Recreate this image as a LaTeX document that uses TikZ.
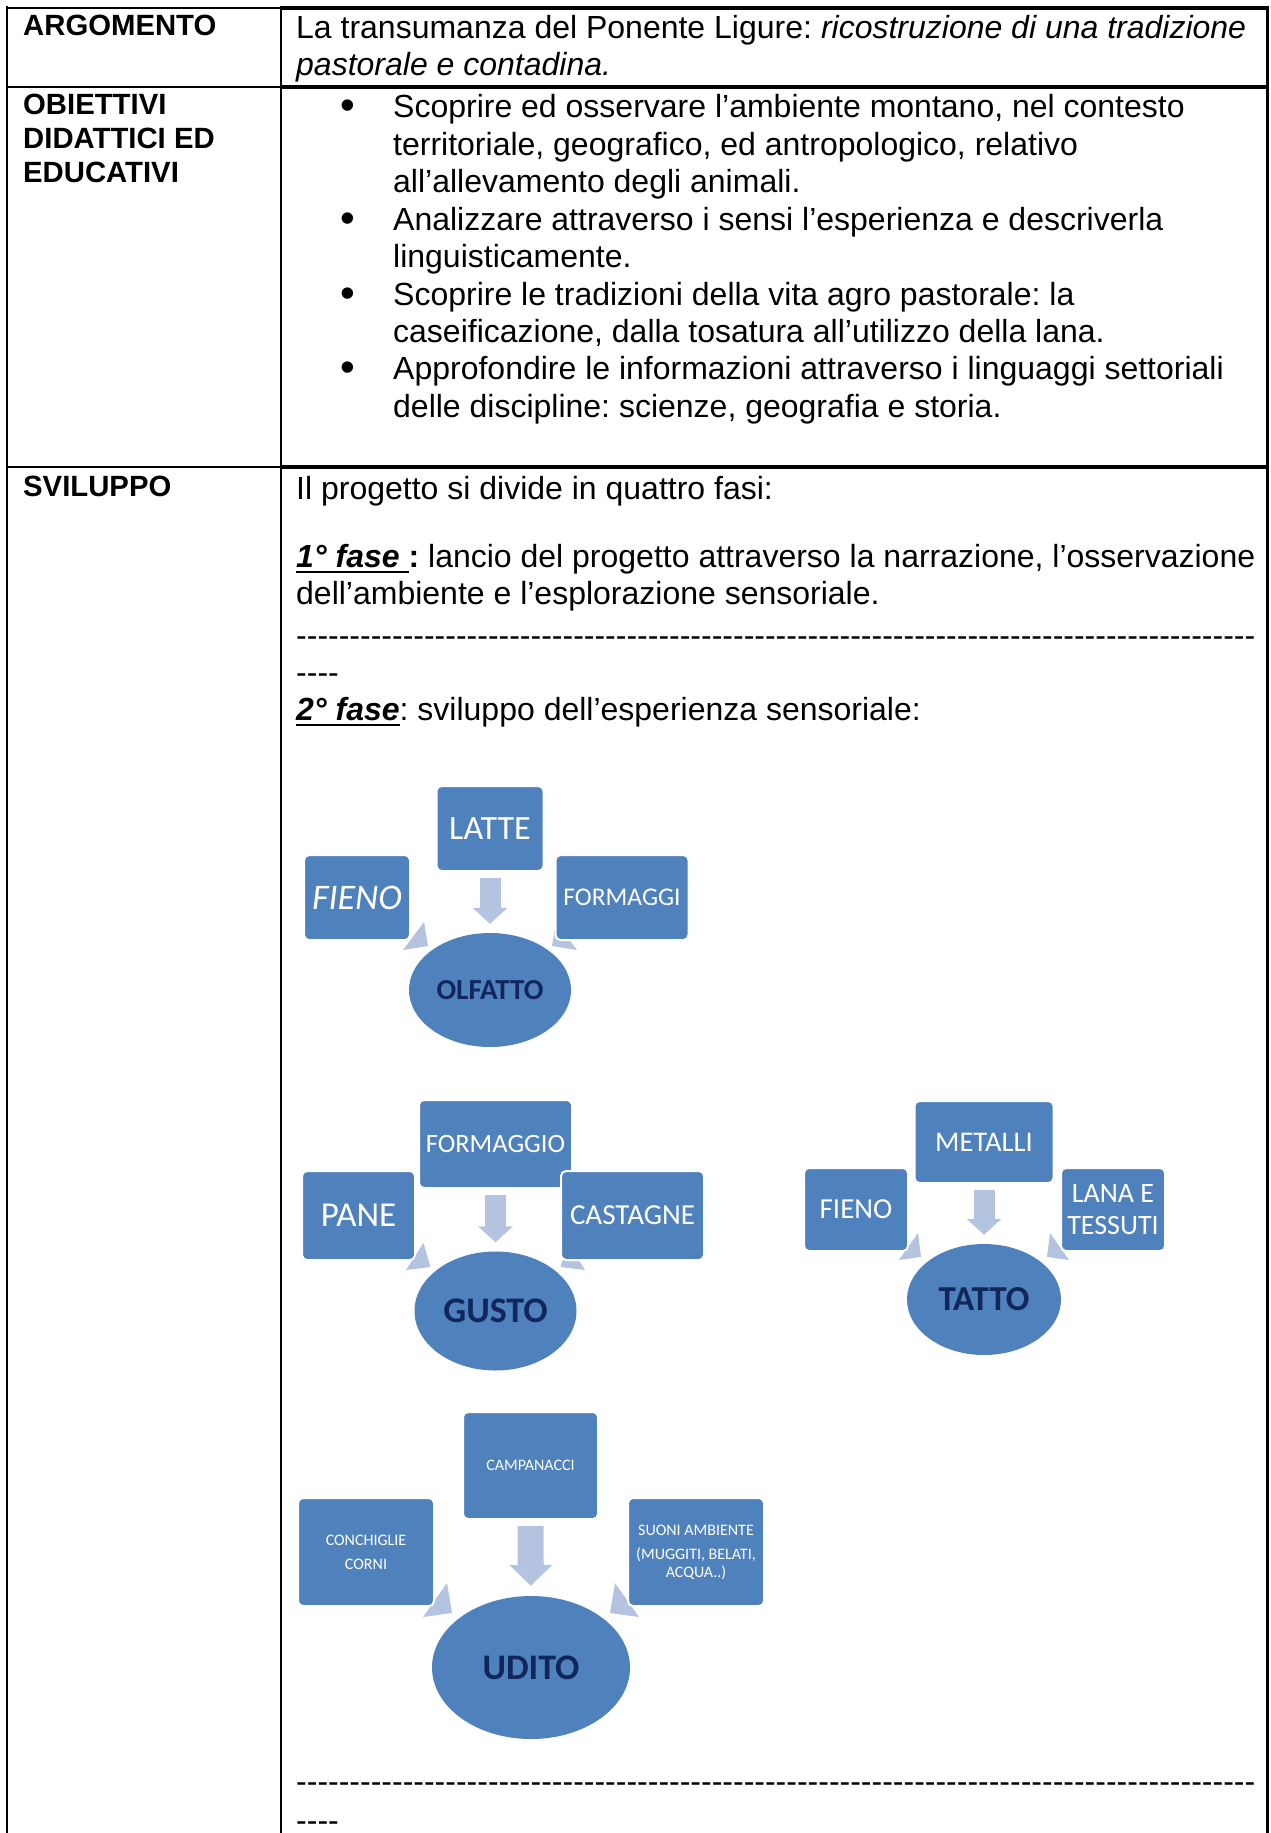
\documentclass[tikz,border=0pt]{standalone}
\usepackage{fontspec}
\setmainfont{Liberation Sans}[Ligatures=TeXOff]
\newfontfamily\carlito{Carlito}
\usetikzlibrary{shapes.geometric,arrows.meta}
\definecolor{boxblue}{RGB}{79,129,189}
\definecolor{pale}{RGB}{180,196,224}
\definecolor{navy}{RGB}{16,38,92}
\newcommand\dashrow[1]{\foreach \k in {1,...,#1}{-\kern0pt}}
\newcommand\ulfase[1]{\setbox0\hbox{#1}\rlap{\rule[-6pt]{\wd0}{2.5pt}}\box0}
\frenchspacing

\begin{document}
\begin{tikzpicture}[x=1pt, y=-1pt,
  celltext/.style={anchor=base west, inner sep=0, font=\fontsize{32}{37}\selectfont},
  celllabel/.style={anchor=base west, inner sep=0, font=\bfseries\fontsize{29.3}{33.7}\selectfont},
  gridline/.style={line width=1.8pt},
  heavyline/.style={line width=4pt},
  item/.style={rectangle, rounded corners=5pt, fill=boxblue, draw=white, line width=2pt, text=white, align=center, inner sep=0},
  sense/.style={ellipse, fill=boxblue, text=navy, inner sep=0},
  flow/.style={draw=pale, line width=21pt, -{Triangle[width=34pt,length=16pt]}, shorten <=6pt, shorten >=9pt},
  bigflow/.style={draw=pale, line width=26pt, -{Triangle[width=42pt,length=21pt]}, shorten <=6pt, shorten >=10pt},
  wedge/.style={fill=pale}]
\fill[white] (0,0) rectangle (1271,1833);
\useasboundingbox (0,0) rectangle (1271,1833);

% table
\draw[gridline] (7,8) -- (281,8);
\draw[heavyline] (281,8) -- (1267,8);
\draw[gridline] (7,87) -- (281,87);
\draw[heavyline] (281,87) -- (1267,87);
\draw[gridline] (7,467) -- (281,467);
\draw[heavyline] (281,467) -- (1267,467);
\draw[gridline] (7,6) -- (7,1833);
\draw[gridline] (281,6) -- (281,1833);
\draw[line width=3pt] (1267,6) -- (1267,1833);

\node[celllabel] (argomento) at (23,36) {ARGOMENTO};
\node[celllabel] (obiettivi) at (23,115) {OBIETTIVI};
\node[celllabel] (didattici) at (23,148.7) {DIDATTICI ED};
\node[celllabel] (educativi) at (23,182.4) {EDUCATIVI};
\node[celllabel] (sviluppo) at (23,496) {SVILUPPO};

\node[celltext] (tema1) at (296,39) {La transumanza del Ponente Ligure: \textit{ricostruzione di una tradizione}};
\node[celltext] (tema2) at (296,76) {\textit{pastorale e contadina.}};

\foreach \txt [count=\i from 0] in {%
  {Scoprire ed osservare l’ambiente montano, nel contesto},
  {territoriale, geografico, ed antropologico, relativo},
  {all’allevamento degli animali.},
  {Analizzare attraverso i sensi l’esperienza e descriverla},
  {linguisticamente.},
  {Scoprire le tradizioni della vita agro pastorale: la},
  {caseificazione, dalla tosatura all’utilizzo della lana.},
  {Approfondire le informazioni attraverso i linguaggi settoriali},
  {delle discipline: scienze, geografia e storia.}}
  \node[celltext] (obj\i) at (393,118+37.4*\i) {\txt};
\foreach \j in {0,3,5,7}
  \node[celltext, font=\fontsize{42}{42}\selectfont] (dot\j) at (340,120+37.4*\j) {•};

\node[celltext] (fasi) at (296,499) {Il progetto si divide in quattro fasi:};
\node[celltext] (fase1a) at (296,567) {\textbf{\ulfase{\textit{1° fase }}:} lancio del progetto attraverso la narrazione, l’osservazione};
\node[celltext] (fase1b) at (296,604) {dell’ambiente e l’esplorazione sensoriale.};
\node[celltext] (sep1a) at (296,646) {\dashrow{90}};
\node[celltext] (sep1b) at (296,683) {\dashrow{4}};
\node[celltext] (fase2) at (296,720) {\ulfase{\textbf{\textit{2° fase}}}: sviluppo dell’esperienza sensoriale:};
\node[celltext] (sep2a) at (296,1792) {\dashrow{90}};
\node[celltext] (sep2b) at (296,1831) {\dashrow{4}};

% olfatto
\fill[wedge] (424,922) -- (428,946) -- (403,950) -- cycle;
\fill[wedge] (556,922) -- (552,946) -- (577,950) -- cycle;
\node[item, minimum width=107pt, minimum height=85pt, font=\carlito\fontsize{34}{40}\selectfont] (latte) at (490,828.5) {LATTE};
\node[item, minimum width=106pt, minimum height=85pt, font=\carlito\itshape\fontsize{36}{42}\selectfont] (fienoA) at (357,897.5) {FIENO};
\node[item, minimum width=133pt, minimum height=85pt, font=\carlito\fontsize{25.5}{30}\selectfont] (formaggi) at (622,897.5) {FORMAGGI};
\node[sense, minimum width=162pt, minimum height=114pt, font=\carlito\bfseries\fontsize{29}{34}\selectfont] (olfatto) at (490,990) {OLFATTO};
\draw[flow] (latte) -- (olfatto);

% gusto
\fill[wedge] (423.5,1243) -- (430.5,1267) -- (406,1270) -- cycle;
\fill[wedge] (567.5,1243) -- (560.5,1267) -- (585,1270) -- cycle;
\node[item, minimum width=153pt, minimum height=88pt, font=\carlito\fontsize{26.5}{31}\selectfont] (formaggio) at (495.5,1144) {FORMAGGIO};
\node[item, minimum width=113pt, minimum height=89pt, font=\carlito\fontsize{35}{41}\selectfont] (pane) at (358.5,1215.5) {PANE};
\node[item, minimum width=143pt, minimum height=89pt, font=\carlito\fontsize{29}{34}\selectfont] (castagne) at (632.5,1215.5) {CASTAGNE};
\node[sense, minimum width=162pt, minimum height=119pt, font=\carlito\bfseries\fontsize{36}{42}\selectfont] (gusto) at (495.5,1311) {GUSTO};
\draw[flow] (formaggio) -- (gusto);

% tatto
\fill[wedge] (918,1233) -- (921,1257) -- (899,1260) -- cycle;
\fill[wedge] (1050,1233) -- (1047,1257) -- (1069,1260) -- cycle;
\node[item, minimum width=139pt, minimum height=82pt, font=\carlito\fontsize{28.5}{33}\selectfont] (metalli) at (984,1142) {METALLI};
\node[item, minimum width=104pt, minimum height=83pt, font=\carlito\fontsize{29}{34}\selectfont] (fienoB) at (856,1209.5) {FIENO};
\node[item, minimum width=104pt, minimum height=83pt, font=\carlito\fontsize{28}{31.7}\selectfont] (lana) at (1113,1209.5) {LANA E\\TESSUTI};
\node[sense, minimum width=154pt, minimum height=111pt, font=\carlito\bfseries\fontsize{35}{41}\selectfont] (tatto) at (984,1299.5) {TATTO};
\draw[flow] (metalli) -- (tatto);

% udito
\fill[wedge] (447,1583) -- (452,1613) -- (423,1617) -- cycle;
\fill[wedge] (615,1583) -- (610,1613) -- (639,1617) -- cycle;
\node[item, minimum width=135pt, minimum height=107pt, font=\carlito\fontsize{16}{19}\selectfont] (campanacci) at (530.5,1465.5) {CAMPANACCI};
\node[item, minimum width=136pt, minimum height=108pt, font=\carlito\fontsize{16}{24}\selectfont] (conchiglie) at (366,1552) {CONCHIGLIE\\CORNI};
\node[item, minimum width=136pt, minimum height=108pt, font=\carlito\fontsize{16}{17.5}\selectfont] (suoni) at (696,1552) {SUONI AMBIENTE\\[7pt](MUGGITI, BELATI,\\ACQUA..)};
\node[sense, minimum width=198pt, minimum height=143pt, font=\carlito\bfseries\fontsize{36}{42}\selectfont] (udito) at (531,1667.5) {UDITO};
\draw[bigflow] (campanacci) -- (udito);
\end{tikzpicture}
\end{document}
